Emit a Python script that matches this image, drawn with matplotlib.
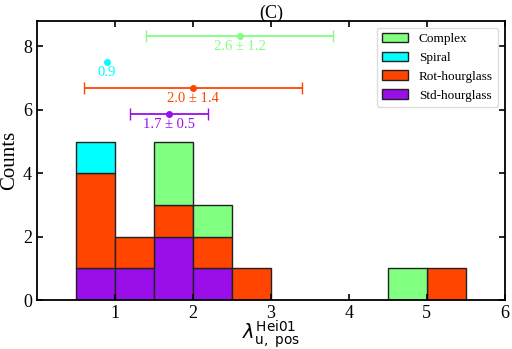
import matplotlib.pyplot as plt
import numpy as np

plt.rcParams['font.family'] = ['Liberation Serif', 'DejaVu Serif']
plt.rcParams['mathtext.fontset'] = 'dejavusans'

# Histogram bins (width 0.5) and stacked counts per class
bin_edges = [0.5, 1.0, 1.5, 2.0, 2.5, 3.0, 3.5, 4.0, 4.5, 5.0, 5.5]
std_counts = [1, 1, 2, 1, 0, 0, 0, 0, 0, 0]
rot_counts = [3, 1, 1, 1, 1, 0, 0, 0, 0, 1]
spiral_counts = [1, 0, 0, 0, 0, 0, 0, 0, 0, 0]
complex_counts = [0, 0, 2, 1, 0, 0, 0, 0, 1, 0]

# Means and standard deviations shown above the histogram
classes = ['Complex', 'Spiral', 'Rot-hourglass', 'Std-hourglass']
means = [2.6, 0.9, 2.0, 1.7]
stds = [1.2, 0.0, 1.4, 0.5]
mean_y = [8.32, 7.5, 6.69, 5.88]
labels = ['2.6 ± 1.2', '0.9', '2.0 ± 1.4', '1.7 ± 0.5']
colors = ['#80ff80', '#00ffff', '#ff4500', '#9a0eea']

fig, ax = plt.subplots(figsize=(5.12, 3.49), dpi=100)

left = np.array(bin_edges[:-1])
width = np.diff(bin_edges)
bottom = np.zeros(len(left))
stack = [(std_counts, 3), (rot_counts, 2), (spiral_counts, 1), (complex_counts, 0)]
for counts, i in stack:
    c = np.array(counts, dtype=float)
    mask = c > 0
    ax.bar(left[mask], c[mask], width=width[mask], bottom=bottom[mask], align='edge',
           color=colors[i], edgecolor='#222222', linewidth=1.0, label=classes[i])
    bottom += c

# mean +/- std markers
for m, s, y, lab, col in zip(means, stds, mean_y, labels, colors):
    if s > 0:
        ax.errorbar(m, y, xerr=s, fmt='o', color=col, ms=4, capsize=4, lw=1.3)
    else:
        ax.plot(m, y, 'o', color=col, ms=4)
    ax.text(m, y - 0.33, lab, color=col, ha='center', va='center', fontsize=10.5)

ax.set_xlim(0, 6)
ax.set_ylim(0, 8.8)
ax.set_xticks([1, 2, 3, 4, 5, 6])
ax.set_yticks([0, 2, 4, 6, 8])
ax.tick_params(direction='in', top=True, right=True, labelsize=13, length=4, width=1.2)
for sp in ax.spines.values():
    sp.set_linewidth(1.3)

ax.set_title('(C)', fontsize=13, pad=2)
ax.set_ylabel('Counts', fontsize=15)
ax.yaxis.set_label_coords(-0.038, 0.5)
ax.set_xlabel(r'$\lambda_{\mathrm{u,\ pos}}^{\mathrm{Hei01}}$', fontsize=14, labelpad=-2.5)

handles, hlabels = ax.get_legend_handles_labels()
order = [hlabels.index(c) for c in classes]
ax.legend([handles[i] for i in order], [hlabels[i] for i in order], loc='upper right',
          fontsize=9.5, fancybox=True, framealpha=1, edgecolor='#dddddd')

plt.subplots_adjust(left=0.072, right=0.986, top=0.94, bottom=0.14)
plt.savefig('out.png')
